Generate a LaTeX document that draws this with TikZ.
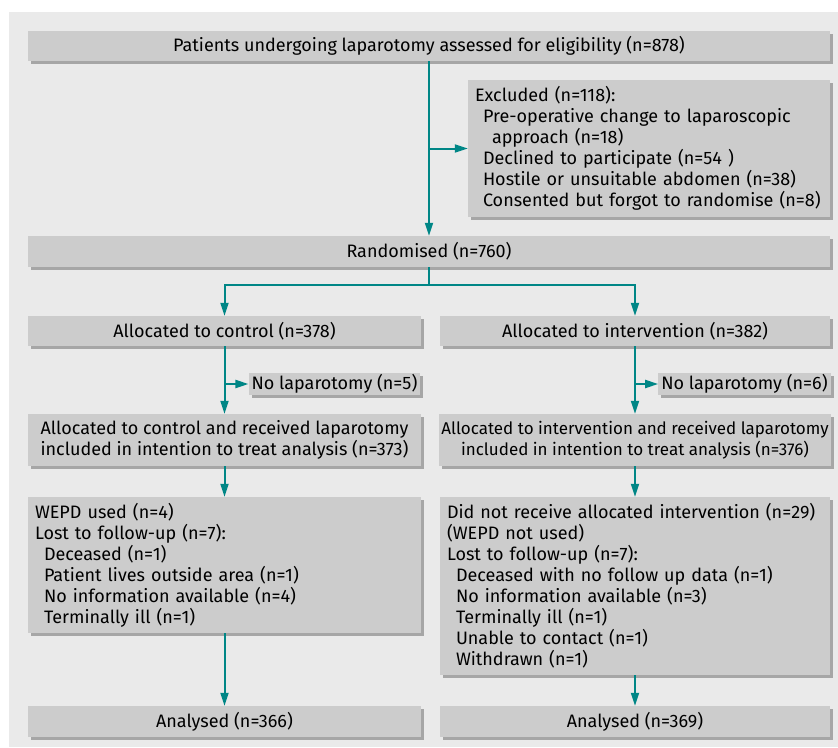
\documentclass[tikz,border=0pt]{standalone}
\usepackage{fontspec}
\setmainfont{Fira Sans}
\usetikzlibrary{arrows.meta,shadows}
\definecolor{panelgray}{HTML}{EAEAEA}
\definecolor{boxgray}{HTML}{CCCCCC}
\definecolor{shadowgray}{HTML}{A6A6A6}
\definecolor{flowteal}{RGB}{0,134,134}
\tikzset{
  box/.style={fill=boxgray, inner xsep=7pt, inner ysep=0pt,
    font=\fontsize{18}{21}\selectfont,
    drop shadow={shadow xshift=3pt, shadow yshift=-3pt, fill=shadowgray, opacity=1}},
  listbox/.style={box, align=left},
  flow/.style={draw=flowteal, line width=2pt, -{Triangle[length=13pt,width=8pt]}},
  trunk/.style={draw=flowteal, line width=2pt}
}
\begin{document}
\begin{tikzpicture}[x=1pt,y=-1pt]
  \useasboundingbox (0,0) rectangle (838,747);
  \fill[panelgray] (9,12) rectangle (838,747);
  % Enrolment
  \node[box, minimum width=802pt, minimum height=30pt] (assess) at (429,46)
    {Patients undergoing laparotomy assessed for eligibility (n=878)};
  \node[listbox, text width=348pt, minimum height=137pt] (excl) at (649,148.5)
    {Excluded (n=118):\\
     \hspace*{8pt}Pre-operative change to laparoscopic\\
     \hspace*{17pt}approach (n=18)\\
     \hspace*{8pt}Declined to participate (n=54 )\\
     \hspace*{8pt}Hostile or unsuitable abdomen (n=38)\\
     \hspace*{8pt}Consented but forgot to randomise (n=8)};
  \node[box, minimum width=802pt, minimum height=31pt] (rand) at (429,251.5)
    {Randomised (n=760)};
  % Allocation
  \node[box, minimum width=393pt, minimum height=30pt] (ctrl) at (224.5,331)
    {Allocated to control (n=378)};
  \node[box, minimum width=390pt, minimum height=30pt] (intv) at (635,331)
    {Allocated to intervention (n=382)};
  \node[box, inner xsep=3pt, minimum width=171pt, minimum height=22pt] (nolapc) at (334.5,384)
    {No laparotomy (n=5)};
  \node[box, inner xsep=3pt, minimum width=171pt, minimum height=22pt] (nolapi) at (744.5,384)
    {No laparotomy (n=6)};
  \node[box, align=center, minimum width=393pt, minimum height=52pt] (ittc) at (224.5,440)
    {Allocated to control and received laparotomy\\
     included in intention to treat analysis (n=373)};
  \node[box, align=center, inner xsep=2pt, font=\fontsize{17}{21}\selectfont,
        minimum width=390pt, minimum height=52pt] (itti) at (635,440)
    {Allocated to intervention and received laparotomy\\
     included in intention to treat analysis (n=376)};
  % Follow up
  \node[listbox, text width=379pt, minimum height=136pt] (lostc) at (224.5,565)
    {WEPD used (n=4)\\
     Lost to follow-up (n=7):\\
     \hspace*{9pt}Deceased (n=1)\\
     \hspace*{9pt}Patient lives outside area (n=1)\\
     \hspace*{9pt}No information available (n=4)\\
     \hspace*{9pt}Terminally ill (n=1)};
  \node[listbox, text width=376pt, minimum height=178pt] (losti) at (635,586)
    {Did not receive allocated intervention (n=29)\\
     (WEPD not used)\\
     Lost to follow-up (n=7):\\
     \hspace*{9pt}Deceased with no follow up data (n=1)\\
     \hspace*{9pt}No information available (n=3)\\
     \hspace*{9pt}Terminally ill (n=1)\\
     \hspace*{9pt}Unable to contact (n=1)\\
     \hspace*{9pt}Withdrawn (n=1)};
  % Analysis
  \node[box, minimum width=393pt, minimum height=31pt] (anac) at (224.5,721.5)
    {Analysed (n=366)};
  \node[box, minimum width=390pt, minimum height=31pt] (anai) at (635,721.5)
    {Analysed (n=369)};
  % Connectors
  \coordinate (split) at (429,285);
  \draw[flow] (assess.south) -- (rand.north);
  \draw[flow] (assess.south |- excl.west) -- (excl.west);
  \draw[trunk] (rand.south) -- (split);
  \draw[flow] (split) -| (ctrl.north);
  \draw[flow] (split) -| (intv.north);
  \draw[flow] (ctrl.south) -- (ittc.north);
  \draw[flow] (intv.south) -- (itti.north);
  \draw[flow] (ctrl.south |- nolapc.west) -- (nolapc.west);
  \draw[flow] (intv.south |- nolapi.west) -- (nolapi.west);
  \draw[flow] (ittc.south) -- (lostc.north);
  \draw[flow] (itti.south) -- (losti.north);
  \draw[flow] (lostc.south) -- (anac.north);
  \draw[flow] (losti.south) -- (anai.north);
\end{tikzpicture}
\end{document}
